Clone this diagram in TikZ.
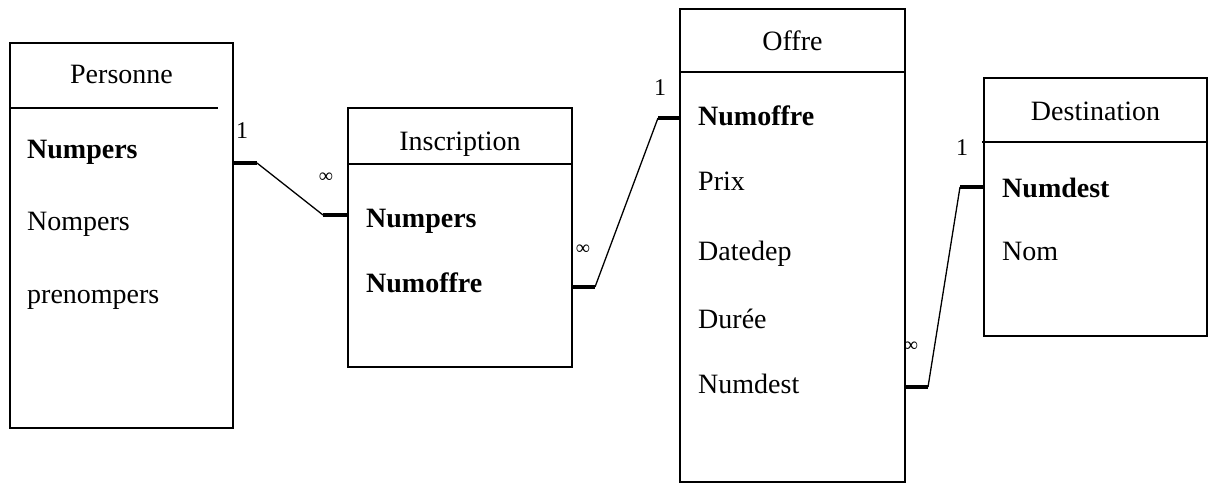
\documentclass[tikz,border=0pt]{standalone}
\usepackage{fontspec}
\setmainfont{Liberation Serif}
\usetikzlibrary{calc}
\begin{document}
\begin{tikzpicture}[x=1pt,y=-1pt,
  entity/.style={draw, line width=1.6pt, inner sep=0pt, outer sep=0pt, anchor=north west},
  sepline/.style={line width=1.6pt},
  ttl/.style={anchor=base, font=\fontsize{28}{30}\selectfont, inner sep=0pt},
  fld/.style={anchor=base west, font=\fontsize{28}{30}\selectfont, inner sep=0pt},
  key/.style={anchor=base west, font=\fontsize{28}{30}\selectfont\bfseries, inner sep=0pt},
  stub/.style={line width=3.5pt},
  link/.style={line width=1.3pt},
  one/.style={anchor=base, font=\fontsize{24}{26}\selectfont, inner sep=0pt},
  many/.style={font=\fontsize{20}{22}\selectfont, inner sep=0pt}
]
\useasboundingbox (0,0) rectangle (1209,483);

% Personne
\node[entity, minimum width=223pt, minimum height=385pt] (personne) at (10,43) {};
\draw[sepline] ($(personne.north west)+(0,65)$) -- ++(208,0);
\node[ttl] (tPersonne) at ($(personne.north)+(0,40)$) {Personne};
\node[key] (pNumpers) at ($(personne.north west)+(17,115)$) {Numpers};
\node[fld] (pNompers) at ($(personne.north west)+(17,187)$) {Nompers};
\node[fld] (pPrenom) at ($(personne.north west)+(17,260)$) {prenompers};

% Inscription
\node[entity, minimum width=224pt, minimum height=259pt] (inscription) at (348,108) {};
\draw[sepline] ($(inscription.north west)+(0,56)$) -- ($(inscription.north east)+(0,56)$);
\node[ttl] (tInscription) at ($(inscription.north)+(0,42)$) {Inscription};
\node[key] (iNumpers) at ($(inscription.north west)+(18,119)$) {Numpers};
\node[key] (iNumoffre) at ($(inscription.north west)+(18,184)$) {Numoffre};

% Offre
\node[entity, minimum width=225pt, minimum height=473pt] (offre) at (680,9) {};
\draw[sepline] ($(offre.north west)+(0,63)$) -- ($(offre.north east)+(1,63)$);
\node[ttl] (tOffre) at ($(offre.north)+(0,41)$) {Offre};
\node[key] (oNumoffre) at ($(offre.north west)+(18,116)$) {Numoffre};
\node[fld] (oPrix) at ($(offre.north west)+(18,181)$) {Prix};
\node[fld] (oDatedep) at ($(offre.north west)+(18,251)$) {Datedep};
\node[fld] (oDuree) at ($(offre.north west)+(18,319)$) {Durée};
\node[fld] (oNumdest) at ($(offre.north west)+(18,384)$) {Numdest};

% Destination
\node[entity, minimum width=223pt, minimum height=258pt] (destination) at (984,78) {};
\draw[sepline] ($(destination.north west)+(-2,64)$) -- ($(destination.north east)+(0,64)$);
\node[ttl] (tDestination) at ($(destination.north)+(0,42)$) {Destination};
\node[key] (dNumdest) at ($(destination.north west)+(18,119)$) {Numdest};
\node[fld] (dNom) at ($(destination.north west)+(18,182)$) {Nom};

% Personne -- Inscription
\coordinate (c1a) at ($(personne.north east)+(0,120)$);
\coordinate (c1b) at ($(c1a)+(24,0)$);
\coordinate (c1d) at ($(inscription.north west)+(0,107)$);
\coordinate (c1c) at ($(c1d)+(-25,0)$);
\draw[stub] (c1a) -- (c1b);
\draw[link] (c1b) -- (c1c);
\draw[stub] (c1c) -- (c1d);
\node[one] (l1a) at ($(personne.north east)+(9,95)$) {1};
\node[many] (l1b) at ($(inscription.north west)+(-22,70)$) {∞};

% Inscription -- Offre
\coordinate (c2a) at ($(inscription.north east)+(0,179)$);
\coordinate (c2b) at ($(c2a)+(23,0)$);
\coordinate (c2d) at ($(offre.north west)+(0,109)$);
\coordinate (c2c) at ($(c2d)+(-22,0)$);
\draw[stub] (c2a) -- (c2b);
\draw[link] (c2b) -- (c2c);
\draw[stub] (c2c) -- (c2d);
\node[many] (l2a) at ($(inscription.north east)+(11,142)$) {∞};
\node[one] (l2b) at ($(offre.north west)+(-20,86)$) {1};

% Offre -- Destination
\coordinate (c3a) at ($(offre.north east)+(0,378)$);
\coordinate (c3b) at ($(c3a)+(23,0)$);
\coordinate (c3d) at ($(destination.north west)+(0,109)$);
\coordinate (c3c) at ($(c3d)+(-24,0)$);
\draw[stub] (c3a) -- (c3b);
\draw[link] (c3b) -- (c3c);
\draw[stub] (c3c) -- (c3d);
\node[many] (l3a) at ($(offre.north east)+(6,338)$) {∞};
\node[one] (l3b) at ($(destination.north west)+(-22,77)$) {1};
\end{tikzpicture}
\end{document}
